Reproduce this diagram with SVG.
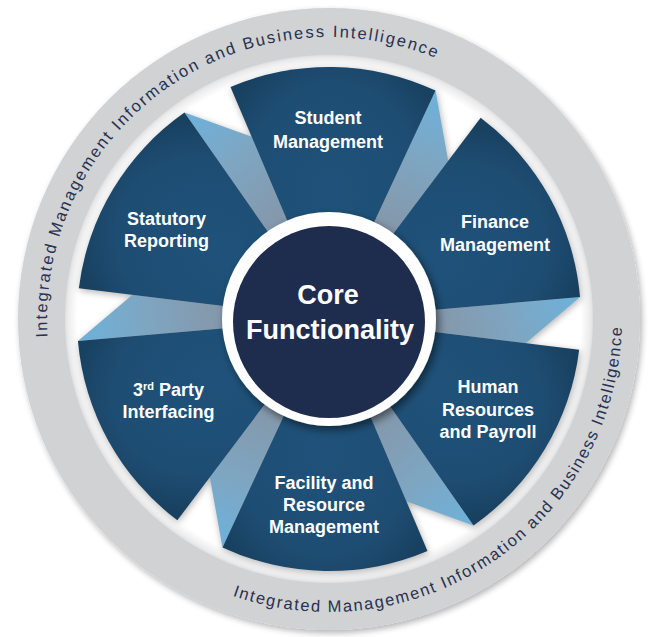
<svg xmlns="http://www.w3.org/2000/svg" xmlns:xlink="http://www.w3.org/1999/xlink" width="657" height="637" viewBox="0 0 657 637">
<style>
.lbl{font-family:"Liberation Sans",Arial,sans-serif;font-weight:bold;font-size:18px;fill:#ffffff;text-anchor:middle}
.core{font-family:"Liberation Sans",Arial,sans-serif;font-weight:bold;font-size:27px;fill:#ffffff;text-anchor:middle}
.ring{font-family:"Liberation Sans",Arial,sans-serif;font-size:16.5px;fill:#283150}
.rt{letter-spacing:2px}
.rb{letter-spacing:1.65px}
</style>
<defs>
<filter id="ringShadow" x="-10%" y="-10%" width="120%" height="120%">
<feGaussianBlur in="SourceAlpha" stdDeviation="3"/>
<feOffset dx="2" dy="3"/>
<feComponentTransfer><feFuncA type="linear" slope="0.3"/></feComponentTransfer>
<feMerge><feMergeNode/><feMergeNode in="SourceGraphic"/></feMerge>
</filter>
<filter id="blur" x="-20%" y="-20%" width="140%" height="140%">
<feGaussianBlur stdDeviation="3.5"/>
</filter>
<filter id="coreShadow" x="-20%" y="-20%" width="140%" height="140%">
<feGaussianBlur in="SourceAlpha" stdDeviation="4"/>
<feOffset dx="3" dy="4"/>
<feComponentTransfer><feFuncA type="linear" slope="0.5"/></feComponentTransfer>
<feMerge><feMergeNode/><feMergeNode in="SourceGraphic"/></feMerge>
</filter>
<radialGradient id="disk" gradientUnits="userSpaceOnUse" cx="329" cy="319" r="265">
<stop offset="0" stop-color="#ffffff"/>
<stop offset="0.95" stop-color="#ffffff"/>
<stop offset="0.985" stop-color="#ececed"/>
<stop offset="1" stop-color="#dadbdc"/>
</radialGradient>
<radialGradient id="segGrad" cx="0.5" cy="0.5" r="0.62">
<stop offset="0" stop-color="#1f527a"/>
<stop offset="0.7" stop-color="#1e4d73"/>
<stop offset="1" stop-color="#18405f"/>
</radialGradient>
<linearGradient id="ribGrad" gradientUnits="userSpaceOnUse" x1="435.5" y1="90.6" x2="385" y2="235">
<stop offset="0" stop-color="#6cb2dc"/>
<stop offset="0.45" stop-color="#7ea6c2"/>
<stop offset="1" stop-color="#8596a8"/>
</linearGradient>
<path id="seg" d="M329,319 L230.5,87.0 A252,252 0 0 1 435.5,90.6 Z"/>
<path id="rib" d="M329,319 L435.5,90.6 L448.2,160.9 Z"/>
<path id="arcTop" d="M47.6,337.2 A282,282 0 1 1 599.7,398.2"/>
<path id="arcBottom" d="M232.6,595.7 A293,293 0 1 0 324.9,26.0"/>
</defs>

<g id="outer-ring">
<circle cx="329" cy="319" r="311" fill="#d1d2d4" filter="url(#ringShadow)"/>
<circle cx="329" cy="319" r="264" fill="url(#disk)"/>
<g class="ring rt">
<text><textPath xlink:href="#arcTop" href="#arcTop" startOffset="0">Integrated</textPath></text>
<text><textPath xlink:href="#arcTop" href="#arcTop" startOffset="100.89">Management</textPath></text>
<text><textPath xlink:href="#arcTop" href="#arcTop" startOffset="223.77">Information</textPath></text>
<text><textPath xlink:href="#arcTop" href="#arcTop" startOffset="334.89">and</textPath></text>
<text><textPath xlink:href="#arcTop" href="#arcTop" startOffset="375.0">Business</textPath></text>
<text><textPath xlink:href="#arcTop" href="#arcTop" startOffset="464.52">Intelligence</textPath></text>
</g>
<g class="ring rb">
<text><textPath xlink:href="#arcBottom" href="#arcBottom" startOffset="0">Integrated</textPath></text>
<text><textPath xlink:href="#arcBottom" href="#arcBottom" startOffset="97.04">Management</textPath></text>
<text><textPath xlink:href="#arcBottom" href="#arcBottom" startOffset="216.06">Information</textPath></text>
<text><textPath xlink:href="#arcBottom" href="#arcBottom" startOffset="322.98">and</textPath></text>
<text><textPath xlink:href="#arcBottom" href="#arcBottom" startOffset="361.69">Business</textPath></text>
<text><textPath xlink:href="#arcBottom" href="#arcBottom" startOffset="448.07">Intelligence</textPath></text>
</g>
</g>

<g id="shadows" filter="url(#blur)" fill="#000000" opacity="0.3">
<use href="#seg" transform="translate(1,2)"/>
<use href="#seg" transform="translate(1,2) rotate(60 329 319)"/>
<use href="#seg" transform="translate(1,2) rotate(120 329 319)"/>
<use href="#seg" transform="translate(1,2) rotate(180 329 319)"/>
<use href="#seg" transform="translate(1,2) rotate(240 329 319)"/>
<use href="#seg" transform="translate(1,2) rotate(300 329 319)"/>
<use href="#rib" transform="translate(1,2)"/>
<use href="#rib" transform="translate(1,2) rotate(60 329 319)"/>
<use href="#rib" transform="translate(1,2) rotate(120 329 319)"/>
<use href="#rib" transform="translate(1,2) rotate(180 329 319)"/>
<use href="#rib" transform="translate(1,2) rotate(240 329 319)"/>
<use href="#rib" transform="translate(1,2) rotate(300 329 319)"/>
</g>

<g id="connectors" fill="url(#ribGrad)">
<use href="#rib"/>
<use href="#rib" transform="rotate(60 329 319)"/>
<use href="#rib" transform="rotate(120 329 319)"/>
<use href="#rib" transform="rotate(180 329 319)"/>
<use href="#rib" transform="rotate(240 329 319)"/>
<use href="#rib" transform="rotate(300 329 319)"/>
</g>

<g id="student-management">
<use href="#seg" fill="url(#segGrad)"/>
<text class="lbl" x="328" y="124">Student</text>
<text class="lbl" x="328" y="148">Management</text>
</g>

<g id="finance-management">
<use href="#seg" fill="url(#segGrad)" transform="rotate(60 329 319)"/>
<text class="lbl" x="495" y="228">Finance</text>
<text class="lbl" x="495" y="251">Management</text>
</g>

<g id="human-resources-payroll">
<use href="#seg" fill="url(#segGrad)" transform="rotate(120 329 319)"/>
<text class="lbl" x="488" y="393">Human</text>
<text class="lbl" x="488" y="416">Resources</text>
<text class="lbl" x="488" y="438">and Payroll</text>
</g>

<g id="facility-resource-management">
<use href="#seg" fill="url(#segGrad)" transform="rotate(180 329 319)"/>
<text class="lbl" x="324" y="489">Facility and</text>
<text class="lbl" x="324" y="511">Resource</text>
<text class="lbl" x="324" y="533">Management</text>
</g>

<g id="third-party-interfacing">
<use href="#seg" fill="url(#segGrad)" transform="rotate(240 329 319)"/>
<text class="lbl" x="168.5" y="396">3<tspan font-size="11" dy="-6">rd</tspan><tspan dy="6"> Party</tspan></text>
<text class="lbl" x="168.5" y="418">Interfacing</text>
</g>

<g id="statutory-reporting">
<use href="#seg" fill="url(#segGrad)" transform="rotate(300 329 319)"/>
<text class="lbl" x="166.5" y="225">Statutory</text>
<text class="lbl" x="166.5" y="247">Reporting</text>
</g>

<g id="core-functionality">
<circle cx="329" cy="319" r="107" fill="#ffffff" filter="url(#coreShadow)"/>
<circle cx="329" cy="322" r="96" fill="#1e2c4e"/>
<text class="core" x="328" y="304">Core</text>
<text class="core" x="330" y="339">Functionality</text>
</g>
</svg>
